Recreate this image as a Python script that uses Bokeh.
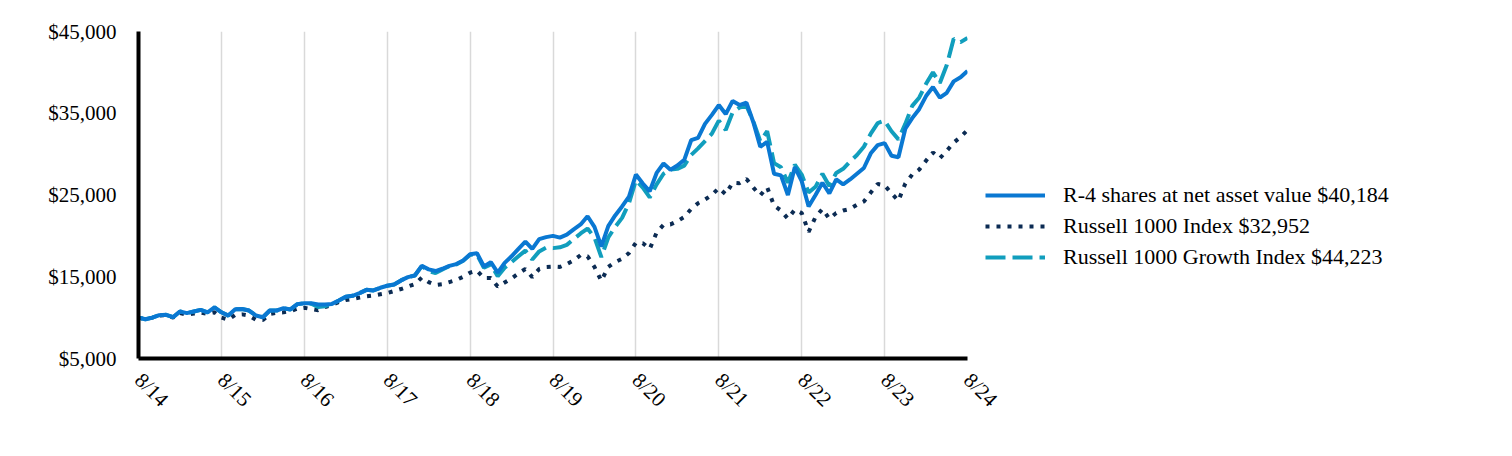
import math
from bokeh.plotting import figure
from bokeh.models import Legend, LegendItem, FixedTicker, Range1d
from bokeh.embed import file_html
from bokeh.resources import INLINE

# ---- data (monthly, 8/14 .. 8/24) ----
r4_nav = [10000, 9800, 10000, 10300, 10340, 10050, 10750, 10550, 10750, 10950, 10650, 11270,
          10650, 10250, 11030, 11050, 10870, 10260, 10050, 10870, 10870, 11150, 11000, 11650,
          11750, 11770, 11600, 11600, 11680, 12100, 12550, 12670, 13000, 13400, 13320, 13650,
          13900, 14050, 14550, 14950, 15150, 16340, 15900, 15700, 15980, 16330, 16550, 17000,
          17750, 17880, 16250, 16780, 15500, 16700, 17500, 18420, 19310, 18400, 19600, 19850,
          20000, 19780, 20150, 20800, 21400, 22400, 21100, 18700, 21200, 22500, 23600, 24800,
          27500, 26400, 25450, 27700, 28850, 28100, 28600, 29300, 31700, 32000, 33700, 34800,
          36000, 34900, 36500, 36000, 36300, 33900, 30900, 31500, 27600, 27400, 25000, 28400,
          26700, 23600, 25000, 26500, 25200, 26900, 26300, 26900, 27600, 28300, 30100, 31100,
          31350, 29800, 29620, 33100, 34400, 35500, 37100, 38200, 36900, 37500, 38900, 39400,
          40184]

russell_1000 = [10000, 9800, 10000, 10250, 10300, 10000, 10550, 10350, 10500, 10600, 10450, 10650,
                10000, 9750, 10350, 10400, 10250, 9750, 9700, 10450, 10600, 10650, 10800, 11100,
                11200, 11050, 10900, 11300, 11550, 11900, 12150, 12300, 12450, 12600, 12700, 12850,
                13000, 13250, 13500, 13800, 14100, 14900, 14350, 14000, 14100, 14350, 14600, 15000,
                15500, 15750, 14850, 14850, 13800, 14300, 14800, 15400, 15950, 14950, 15950, 16200,
                16250, 16200, 16550, 17000, 17650, 17500, 16200, 14500, 16200, 16800, 17200, 17900,
                19150, 19100, 18400, 20400, 21350, 21400, 21800, 22300, 23300, 24000, 24450, 25000,
                25850, 25100, 26500, 26450, 26950, 25900, 24950, 25950, 23700, 23100, 22100, 23200,
                22800, 20500, 22300, 23300, 22100, 22800, 23100, 23300, 23800, 24200, 25300, 26350,
                26200, 25200, 24300, 26400, 27500, 28100, 29200, 30200, 29500, 30400, 31400, 32100,
                32952]

russell_1000_growth = [10000, 9800, 10000, 10300, 10340, 10050, 10750, 10550, 10750, 10950, 10650, 11270,
                       10650, 10250, 11030, 11050, 10870, 10260, 10050, 10870, 10870, 11150, 11000, 11650,
                       11750, 11700, 11300, 11400, 11650, 12100, 12550, 12670, 13000, 13400, 13320, 13650,
                       13900, 14050, 14550, 14950, 15150, 16300, 15700, 15450, 15900, 16300, 16500, 16950,
                       17700, 17700, 16100, 16500, 15050, 16100, 16800, 17500, 18200, 17100, 18100, 18550,
                       18500, 18600, 18900, 19600, 20300, 20900, 19800, 17400, 19800, 21100, 22200, 24000,
                       26800, 25900, 24700, 26300, 27600, 28100, 28200, 28600, 29900, 30700, 31600, 32500,
                       34100, 32950, 35100, 35700, 35900, 34000, 31600, 32800, 28900, 28400, 26500, 28700,
                       27500, 25300, 26000, 27600, 26100, 27700, 28200, 29100, 29900, 30900, 32500, 33800,
                       34100, 32800, 31800, 33700, 35900, 36900, 38600, 40000, 38700, 40900, 44100, 43700,
                       44223]

months = list(range(len(r4_nav)))
year_ticks = [0, 12, 24, 36, 48, 60, 72, 84, 96, 108, 120]
year_labels = ["8/14", "8/15", "8/16", "8/17", "8/18", "8/19", "8/20", "8/21", "8/22", "8/23", "8/24"]
y_ticks = [5000, 15000, 25000, 35000, 45000]
y_labels = ["$5,000", "$15,000", "$25,000", "$35,000", "$45,000"]
legend_labels = ["R-4 shares at net asset value $40,184",
                 "Russell 1000 Index $32,952",
                 "Russell 1000 Growth Index $44,223"]

FONT = "Liberation Serif"

p = figure(frame_width=829, frame_height=327, output_backend="svg", toolbar_location=None,
           x_range=Range1d(0, 120), y_range=Range1d(5000, 45000),
           min_border_left=138, min_border_top=31, min_border_bottom=82, min_border_right=0)
p.outline_line_color = None
p.background_fill_color = "white"
p.border_fill_color = "white"

# grid
p.ygrid.grid_line_color = None
p.xgrid.grid_line_color = "#d9d9d9"
p.xgrid.grid_line_width = 1.5
p.xgrid.ticker = FixedTicker(ticks=year_ticks)

# axes
p.xaxis.ticker = FixedTicker(ticks=year_ticks)
p.xaxis.major_label_overrides = {t: l for t, l in zip(year_ticks, year_labels)}
p.xaxis.major_label_orientation = -math.pi / 4
p.yaxis.ticker = FixedTicker(ticks=y_ticks)
p.yaxis.major_label_overrides = {t: l for t, l in zip(y_ticks, y_labels)}
for ax in (p.xaxis, p.yaxis):
    ax.axis_line_color = "black"
    ax.axis_line_width = 4
    ax.major_tick_line_color = None
    ax.minor_tick_line_color = None
    ax.major_label_text_font = FONT
    ax.major_label_text_font_size = "21px"
    ax.major_label_text_color = "black"
p.yaxis.major_label_standoff = 16
p.xaxis.major_label_standoff = 12

# lines
l_r4 = p.line(months, r4_nav, line_color="#0A78D2", line_width=4)
l_r1 = p.line(months, russell_1000, line_color="#0B2B53", line_width=4, line_dash="4 7")
l_rg = p.line(months, russell_1000_growth, line_color="#119EBD", line_width=4, line_dash="20 7")
p.renderers = [l_r1, l_rg, l_r4]

legend = Legend(items=[LegendItem(label=legend_labels[0], renderers=[l_r4]),
                       LegendItem(label=legend_labels[1], renderers=[l_r1]),
                       LegendItem(label=legend_labels[2], renderers=[l_rg])],
                location=(18, 87))
legend.glyph_width = 60
legend.glyph_height = 28
legend.label_height = 28
legend.spacing = 3
legend.padding = 0
legend.margin = 0
legend.label_standoff = 18
legend.border_line_color = None
legend.background_fill_alpha = 0
legend.label_text_font = FONT
legend.label_text_font_size = "22px"
legend.label_text_color = "black"
p.add_layout(legend, "right")

open("out.html", "w").write(file_html(p, INLINE))
